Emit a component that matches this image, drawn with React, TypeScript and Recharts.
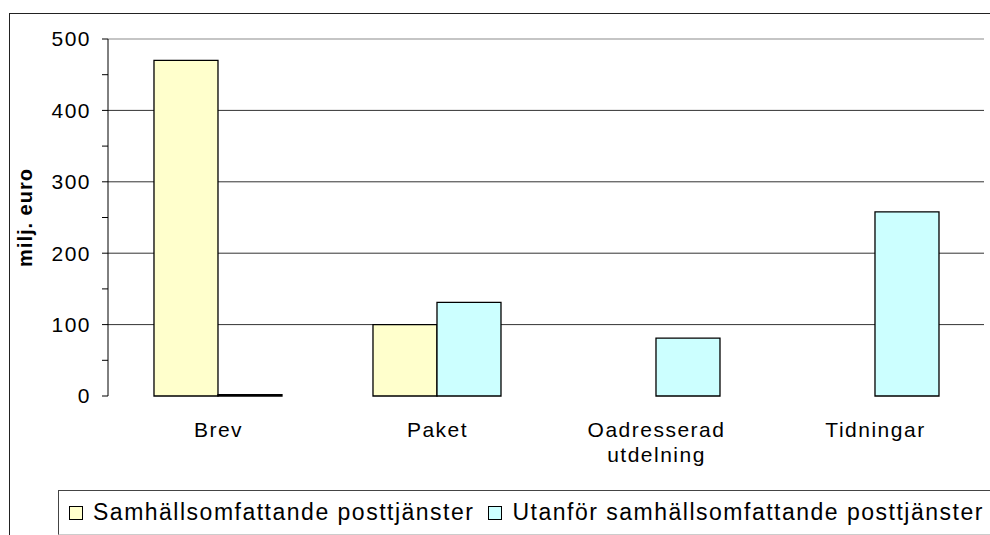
import React from 'react';
import { BarChart, Bar, XAxis, YAxis, CartesianGrid, ReferenceLine, Label, Text } from 'recharts';

const categories = ['Brev', 'Paket', 'Oadresserad utdelning', 'Tidningar'];
const samhall = [470, 100, 0, 0];
const utanfor = [2, 131, 81, 258];
const yTicks = [0, 50, 100, 150, 200, 250, 300, 350, 400, 450, 500];
const gridValues = [100, 200, 300, 400];
const boundaryTicks = [0, 1, 2, 3, 4];

const seriesNames = ['Samhällsomfattande posttjänster', 'Utanför samhällsomfattande posttjänster'];
const seriesColors = ['#FFFFCC', '#CCFFFF'];

const data = categories.map((name, i) => ({ name, samhall: samhall[i], utanfor: utanfor[i] }));

const FONT = '"Liberation Sans", Arial, sans-serif';

const CategoryTick = (props: any) => {
  const { x, y, payload } = props;
  return (
    <Text
      x={x + 1}
      y={y + 26}
      width={140}
      textAnchor="middle"
      verticalAnchor="start"
      lineHeight={25}
      fontSize={21}
      letterSpacing={1.5}
      fontFamily={FONT}
      fill="#000"
    >
      {payload.value}
    </Text>
  );
};

const App = () => {
  return (
    <div style={{ position: 'absolute', left: 0, top: 0, width: 990, height: 535, overflow: 'hidden', background: '#fff', fontFamily: FONT }}>
      {/* chart frame */}
      <div style={{ position: 'absolute', left: 9, top: 13, width: 1000, height: 540, border: '1px solid #222' }} />

      <BarChart
        width={990}
        height={535}
        data={data}
        margin={{ top: 39, right: 6, left: 0, bottom: 45 }}
        barCategoryGap="21%"
        barGap={0}
        style={{ position: 'absolute', left: 0, top: 0 }}
      >
        <CartesianGrid vertical={false} horizontalValues={gridValues} stroke="#333" />
        <XAxis
          xAxisId="b"
          type="number"
          domain={[0, 4]}
          ticks={boundaryTicks}
          allowDataOverflow
          height={0}
          tick={false}
          tickSize={7}
          tickLine={{ stroke: '#000' }}
          axisLine={{ stroke: '#000' }}
        />
        <XAxis
          dataKey="name"
          height={94}
          tickSize={0}
          tickMargin={0}
          tickLine={false}
          axisLine={false}
          interval={0}
          tick={<CategoryTick />}
        />
        <YAxis
          width={108}
          domain={[0, 500]}
          ticks={yTicks}
          interval={0}
          tickFormatter={(v: number) => (v % 100 === 0 ? String(v) : '')}
          tickSize={6}
          tickMargin={11}
          tick={{ fill: '#000', fontSize: 21, fontFamily: FONT, letterSpacing: 1.5 }}
          tickLine={{ stroke: '#000' }}
          axisLine={{ stroke: '#000' }}
        >
          <Label
            content={({ viewBox }: any) => {
              const cx = viewBox.x + 25;
              const cy = viewBox.y + viewBox.height / 2;
              return (
                <text
                  x={cx}
                  y={cy}
                  transform={`rotate(-90, ${cx}, ${cy})`}
                  textAnchor="middle"
                  dominantBaseline="central"
                  fontSize={20}
                  fontWeight="bold"
                  letterSpacing={1}
                  fontFamily={FONT}
                  fill="#000"
                >
                  milj. euro
                </text>
              );
            }}
          />
        </YAxis>
        <ReferenceLine y={500} stroke="#8c8c8c" strokeWidth={1.2} />
        <ReferenceLine xAxisId="b" x={4} stroke="#8c8c8c" strokeWidth={1.2} />
        <Bar dataKey="samhall" name={seriesNames[0]} fill={seriesColors[0]} stroke="#000" strokeWidth={1.3} isAnimationActive={false} />
        <Bar dataKey="utanfor" name={seriesNames[1]} fill={seriesColors[1]} stroke="#000" strokeWidth={1.3} isAnimationActive={false} />
      </BarChart>

      {/* legend */}
      <div
        style={{
          position: 'absolute',
          left: 58,
          top: 490,
          width: 1000,
          height: 43,
          border: '1px solid #444',
          borderBottomColor: '#ccc',
          display: 'flex',
          alignItems: 'center',
          fontSize: 23,
          letterSpacing: 1.5,
          color: '#000',
          whiteSpace: 'nowrap',
        }}
      >
        {seriesNames.map((s, i) => (
          <span key={s} style={{ display: 'inline-flex', alignItems: 'center', marginLeft: i === 0 ? 10 : 14 }}>
            <span style={{ display: 'inline-block', width: 12, height: 12, background: seriesColors[i], border: '1px solid #000', marginRight: 10 }} />
            {s}
          </span>
        ))}
      </div>
    </div>
  );
};

export default App;
